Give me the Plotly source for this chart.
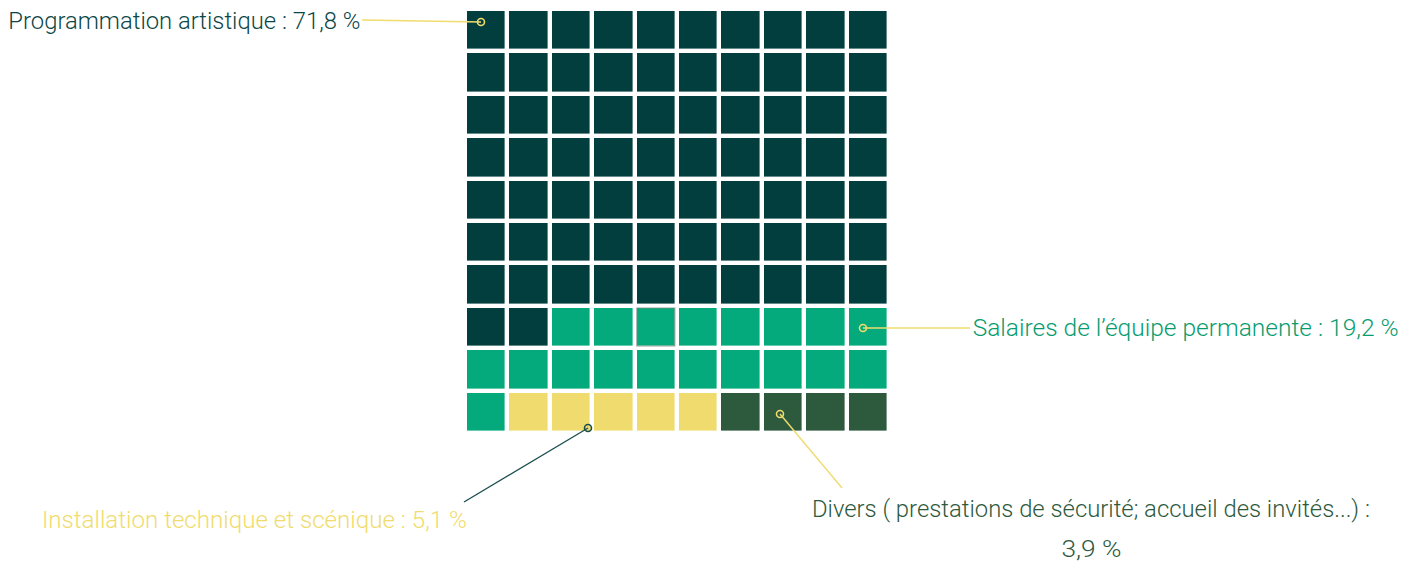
import json
import numpy as np
import plotly.graph_objects as go

# ---------------- data ----------------
categories = [
    "Programmation artistique",
    "Salaires de l’équipe permanente",
    "Installation technique et scénique",
    "Divers ( prestations de sécurité; accueil des invités...)",
]
percent = [71.8, 19.2, 5.1, 3.9]
labels = [
    "Programmation artistique : 71,8 %",
    "Salaires de l’équipe permanente : 19,2 %",
    "Installation technique et scénique : 5,1 %",
    "Divers ( prestations de sécurité; accueil des invités...) :",
]
label_second_line = "3,9 %"
cell_colors = ["#023E3E", "#04AA7B", "#F0DC6E", "#2D593D"]
text_colors = ["#0B4646", "#079C6F", "#F0DC6E", "#2D593D"]
n_cols = 10
n_rows = 10

# ---------------- geometry (pixels) ----------------
W, H = 1418, 565
P = 42.4            # cell pitch in px
GX, GY = 465, 9     # top-left pixel of the grid area
GAP = 4.4


def X(px):
    return (px - GX) / P - 0.5


def Y(py):
    return (py - GY) / P - 0.5


FONT = "Roboto, sans-serif"
FS = 24

# ---------------- waffle cells ----------------
counts = [int(round(p)) for p in percent]
cells = np.repeat(np.arange(len(counts)), counts)[: n_cols * n_rows]
z = cells.reshape(n_rows, n_cols)

k = len(cell_colors)
cs = []
for i, c in enumerate(cell_colors):
    lo = max(0.0, (i - 0.5) / (k - 1))
    hi = min(1.0, (i + 0.5) / (k - 1))
    cs.append([lo, c])
    cs.append([hi, c])

fig = go.Figure()
fig.add_trace(go.Heatmap(
    z=z,
    x=list(range(n_cols)),
    y=list(range(n_rows)),
    zmin=0, zmax=k - 1,
    colorscale=cs,
    showscale=False,
    xgap=GAP, ygap=GAP,
    hoverinfo="skip",
))

# highlighted (hovered) cell outline
hc, hr = 4, 7
e = 0.5 - (GAP / 2) / P
fig.add_shape(type="rect", xref="x", yref="y",
              x0=hc - e, x1=hc + e, y0=hr - e, y1=hr + e,
              line=dict(color="rgba(120,140,130,0.75)", width=1.2),
              fillcolor="rgba(0,0,0,0)", layer="above")

# ---------------- leader lines & markers ----------------
anchors = [(481, 22), (863, 328), (588, 428), (780, 414)]
ends = [(362, 20), (970, 328), (464, 502), (842, 488)]
line_colors = ["#F0DC6E", "#F0DC6E", "#1B4F4F", "#F0DC6E"]
ring_colors = ["#F0DC6E", "#F0DC6E", "#1B4F4F", "#F0DC6E"]
ring_fill = [cell_colors[0], cell_colors[1], cell_colors[2], cell_colors[3]]

for (ax_, ay_), (ex, ey), lc in zip(anchors, ends, line_colors):
    fig.add_shape(type="line", xref="x", yref="y",
                  x0=X(ax_), y0=Y(ay_), x1=X(ex), y1=Y(ey),
                  line=dict(color=lc, width=1.4), layer="above")

fig.add_trace(go.Scatter(
    x=[X(a[0]) for a in anchors],
    y=[Y(a[1]) for a in anchors],
    mode="markers",
    marker=dict(size=7, color=ring_fill,
                line=dict(color=ring_colors, width=1.6)),
    hoverinfo="skip",
    cliponaxis=False,
))

# ---------------- labels ----------------
# (text, centre px x, centre px y, colour, rendered width px)
ann = [
    (labels[0], 184, 21, text_colors[0], 352),
    (labels[1], 1185, 328, text_colors[1], 426),
    (labels[2], 254.5, 520, text_colors[2], 425),
    (labels[3], 1091, 509, text_colors[3], 558),
    (label_second_line, 1091, 549, text_colors[3], 60),
]
for t, cx, cy, col, _w in ann:
    fig.add_annotation(text=t, x=X(cx), y=Y(cy), xref="x", yref="y",
                       xanchor="center", yanchor="middle", showarrow=False,
                       font=dict(family=FONT, size=FS, color=col, weight=300))

fig.update_xaxes(range=[X(0), X(W)], visible=False, fixedrange=True)
fig.update_yaxes(range=[Y(H), Y(0)], visible=False, fixedrange=True)
fig.update_layout(
    width=W, height=H,
    margin=dict(l=0, r=0, t=0, b=0),
    paper_bgcolor="white", plot_bgcolor="white",
    showlegend=False, hovermode=False,
)

# condensed look of the original typeface: squeeze label glyphs to their widths
widths = json.dumps({t: w for t, _cx, _cy, _c, w in ann})
post = """
try {
  var gd = document.getElementById('{plot_id}');
  var WD = %s;
  gd.querySelectorAll('text.annotation-text').forEach(function (t) {
    var w = WD[t.textContent];
    if (w) {
      t.setAttribute('textLength', w);
      t.setAttribute('lengthAdjust', 'spacingAndGlyphs');
    }
  });
} catch (err) {}
""" % widths

fig.write_html("out.html", post_script=post)
